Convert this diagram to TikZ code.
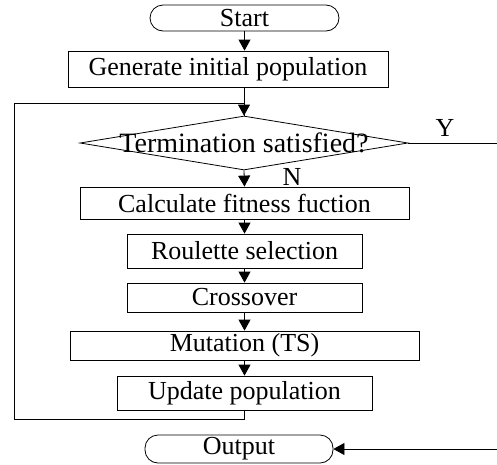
\documentclass[tikz,border=0pt]{standalone}
\usepackage{fontspec}
\setmainfont{Liberation Serif}
\usepackage{tikz}
\usetikzlibrary{shapes.geometric, arrows.meta, positioning}

\tikzset{
    process/.style={draw, rectangle, line width=0.8pt, inner sep=0pt},
    terminal/.style={draw, rectangle, rounded corners=13pt, line width=0.8pt, inner sep=0pt},
    decision/.style={draw, diamond, line width=0.8pt, inner sep=0pt},
    arr/.style={-{Triangle[length=11pt,width=12pt]}, line width=0.8pt}
}

\begin{document}
\begin{tikzpicture}[x=1pt, y=-1pt, font=\fontsize{26}{30}\selectfont]
    \useasboundingbox (0,0) rectangle (497,464);

    % Start and output
    \node[terminal, minimum width=189, minimum height=26] (start) at (244.5,18) {Start};
    \node[terminal, minimum width=188, minimum height=28] (out) at (239,449) {Output};

    % Main steps
    \node[process, minimum width=320, minimum height=36] (gen) at (228,69) {Generate initial population};
    \node[decision, minimum width=328, minimum height=54,
          label={[font=\fontsize{28}{32}\selectfont]center:Termination satisfied?}] (cond) at (244,143) {};
    \node[process, minimum width=329, minimum height=32] (calc) at (244.5,203) {Calculate fitness fuction};
    \node[process, minimum width=235, minimum height=34] (roul) at (244.5,251) {Roulette selection};
    \node[process, minimum width=235, minimum height=29] (cross) at (244.5,297.5) {Crossover};
    \node[process, minimum width=349, minimum height=29] (mut) at (244.5,345.5) {Mutation (TS)};
    \node[process, minimum width=255, minimum height=34] (upd) at (244.5,393) {Update population};

    % Branch labels
    \node (ylab) at (445,128) {Y};
    \node (nlab) at (292,177) {N};

    % Helper points for the loop and the exit
    \coordinate (lb) at (14,419);
    \coordinate (lt) at (14,103);
    \coordinate (rt) at (502,143);

    % Connectors
    \draw[arr] (start.south) -- (start.south |- gen.north);
    \draw[line width=0.8pt] (cond.north |- gen.south) -- (cond.north);
    \draw[arr] (cond.south) -- (calc.north);
    \draw[arr] (calc.south) -- (roul.north);
    \draw[arr] (roul.south) -- (cross.north);
    \draw[arr] (cross.south) -- (mut.north);
    \draw[arr] (mut.south) -- (upd.north);

    % Loop back
    \draw[arr] (upd.south) |- (lb) -- (lt) -| (cond.north);

    % Exit to output
    \draw[arr] (cond.east) -- (rt) |- (out.east);
\end{tikzpicture}
\end{document}
